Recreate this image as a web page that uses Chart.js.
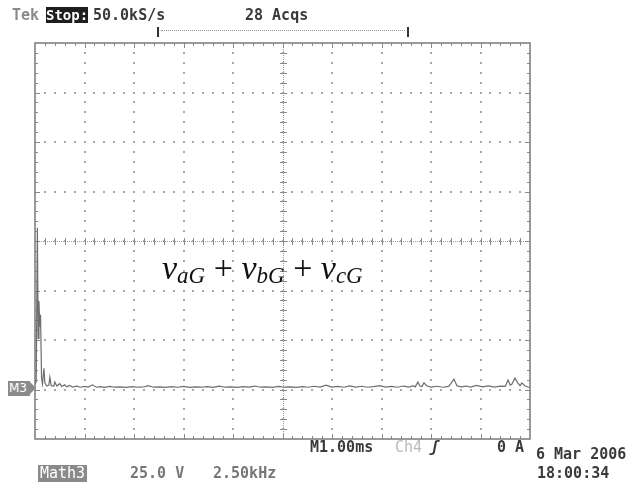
<!DOCTYPE html>
<html>
<head>
<meta charset="utf-8">
<script src="https://cdn.jsdelivr.net/npm/chart.js@4/dist/chart.umd.min.js"></script>
<style>
  body { margin: 0; background: #fff; }
  #wrap { position: relative; width: 636px; height: 484px; overflow: hidden; }
  #scope { position: absolute; left: 0; top: 0; }
  .t { position: absolute; font-family: "DejaVu Sans Mono", monospace; font-size: 15px; font-weight: bold; color: #3a3a3a; white-space: nowrap; line-height: 1; }
  .inv { background: #1e1e1e; color: #fff; padding: 1px 0; font-size: 14px; }
  .box { background: #8a8a8a; color: #fff; padding: 1px 2px; font-weight: normal; }
  #bracket { position: absolute; left: 157px; top: 27px; width: 248px; height: 10px; border-left: 2px solid #333; border-right: 2px solid #333; }
  #bracket div { position: absolute; left: 2px; right: 2px; top: 3px; border-top: 1px dotted #999; }
  #m3 { position: absolute; left: 8px; top: 381px; width: 21px; height: 15px; background: #8a8a8a; color: #fff; font-family: "DejaVu Sans", sans-serif; font-size: 12px; line-height: 15px; padding-left: 1px; }
  #m3:after { content: ""; position: absolute; left: 22px; top: 1px; border-left: 6px solid #8a8a8a; border-top: 6.5px solid transparent; border-bottom: 6.5px solid transparent; }
  #label { position: absolute; left: 162px; top: 251px; font-family: "Liberation Serif", serif; font-size: 34px; color: #111; white-space: nowrap; line-height: 1; }
  #label i { font-style: italic; }
  #label sub { font-size: 23px; font-style: italic; vertical-align: -4px; }
</style>
</head>
<body>
<div id="wrap">
  <canvas id="scope" width="636" height="484"></canvas>
  <div class="t" style="left:12px;top:8px;color:#8a8a8a;">Tek</div>
  <div class="t inv" style="left:46px;top:7px;">Stop:</div>
  <div class="t" style="left:93px;top:8px;">50.0kS/s</div>
  <div class="t" style="left:245px;top:8px;">28 Acqs</div>
  <div id="bracket"><div></div></div>
  <div id="m3">M3</div>
  <div id="label"><i>v</i><sub>aG</sub> + <i>v</i><sub>bG</sub> + <i>v</i><sub>cG</sub></div>
  <div class="t" style="left:310px;top:440px;">M1.00ms</div>
  <div class="t" style="left:395px;top:440px;color:#bbb;font-weight:normal;">Ch4</div>
  <div class="t" style="left:430px;top:440px;font-style:italic;">ʃ</div>
  <div class="t" style="left:497px;top:440px;">0 A</div>
  <div class="t" style="left:536px;top:447px;">6 Mar 2006</div>
  <div class="t" style="left:537px;top:466px;">18:00:34</div>
  <div class="t box" style="left:38px;top:465px;">Math3</div>
  <div class="t" style="left:130px;top:466px;color:#777;">25.0 V</div>
  <div class="t" style="left:213px;top:466px;color:#777;">2.50kHz</div>
</div>
<script>
// FFT of vaG + vbG + vcG, frequency in kHz, magnitude in V above the M3 reference
const freqKHz = [0, 0.06, 0.12, 0.16, 0.2, 0.24, 0.28, 0.33, 0.38, 0.45,
  0.5, 0.6, 0.7, 0.75, 0.82, 0.95, 1.0, 1.1, 1.25, 1.35,
  1.5, 1.6, 1.75, 1.9, 2.1, 2.3, 2.5, 2.7, 2.9, 3.1,
  3.3, 3.5, 3.8, 4.0, 4.3, 4.6, 4.9, 5.2, 5.5, 5.7,
  6.0, 6.3, 6.6, 6.9, 7.2, 7.5, 7.8, 8.1, 8.4, 8.7,
  9.0, 9.3, 9.6, 9.9, 10.2, 10.5, 10.8, 11.1, 11.4, 11.7,
  12.0, 12.3, 12.6, 12.9, 13.2, 13.5, 13.8, 14.1, 14.4, 14.7,
  15.0, 15.3, 15.6, 15.9, 16.2, 16.5, 16.8, 17.1, 17.4, 17.7,
  18.0, 18.3, 18.6, 18.9, 19.09, 19.2, 19.34, 19.44, 19.55, 19.64,
  19.8, 20.0, 20.3, 20.6, 20.9, 21.16, 21.31, 21.5, 21.8, 22.0,
  22.3, 22.6, 22.9, 23.2, 23.5, 23.75, 23.89, 24.0, 24.09, 24.24,
  24.39, 24.5, 24.59, 24.75, 24.9, 25.0];
const magV = [2, 3, 81, 25, 44, 31, 37, 5, 2, 10,
  2.5, 1, 1.5, 5.5, 1.2, 1, 3, 1, 2.2, 0.8,
  1.6, 0.6, 1.3, 0.5, 0.9, 0.4, 0.8, 0.5, 1.6, 0.4,
  0.7, 0.3, 0.8, 0.4, 0.6, 0.3, 0.7, 0.4, 0.5, 1.2,
  0.4, 0.6, 0.3, 0.7, 0.4, 0.8, 0.3, 0.6, 0.4, 0.7,
  0.3, 0.9, 0.4, 0.6, 0.3, 0.7, 0.5, 1.0, 0.4, 0.6,
  0.3, 0.8, 0.4, 0.6, 0.3, 0.7, 0.4, 0.9, 0.5, 1.4,
  0.5, 0.8, 0.4, 1.1, 0.5, 0.9, 0.4, 0.7, 1.2, 0.5,
  0.8, 0.4, 1.0, 0.5, 1.2, 0.6, 3, 1, 0.7, 2.6,
  1, 0.5, 0.9, 0.4, 0.8, 4.5, 1.2, 0.6, 1.0, 0.5,
  1.3, 0.6, 1.1, 0.5, 1.0, 0.8, 4, 1.5, 2, 5,
  2.5, 1.2, 2.6, 1, 0.5, 0.3];

const kHzPerDiv = 2.5;
const voltsPerDiv = 25;
const xDivs = 10, yDivs = 8;
const refOffsetDivs = 1.03; // M3 reference sits ~1 div above the bottom

const yMin = -refOffsetDivs * voltsPerDiv;
const yMax = yMin + yDivs * voltsPerDiv;

const points = freqKHz.map((f, i) => ({ x: f, y: magV[i] }));

// oscilloscope graticule: border, dotted divisions, center crosshair with ticks
const graticule = {
  id: 'graticule',
  beforeDatasetsDraw(chart) {
    const ctx = chart.ctx;
    const xs = chart.scales.x, ys = chart.scales.y;
    const L = xs.getPixelForValue(0), R = xs.getPixelForValue(xDivs * kHzPerDiv);
    const T = ys.getPixelForValue(yMax), B = ys.getPixelForValue(yMin);
    const dx = (R - L) / xDivs, dy = (B - T) / yDivs;
    ctx.save();
    ctx.fillStyle = '#a8a8a8';
    // dotted major lines
    for (let i = 1; i < xDivs; i++) {
      const x = L + i * dx;
      for (let k = 1; k < yDivs * 5; k++) ctx.fillRect(Math.round(x) - 1, Math.round(T + k * dy / 5) - 1, 2, 2);
    }
    for (let j = 1; j < yDivs; j++) {
      const y = T + j * dy;
      for (let k = 1; k < xDivs * 5; k++) ctx.fillRect(Math.round(L + k * dx / 5) - 1, Math.round(y) - 1, 2, 2);
    }
    // center crosshair
    const cx = Math.round(L + dx * xDivs / 2), cy = Math.round(T + dy * yDivs / 2);
    ctx.fillStyle = '#9a9a9a';
    for (let x = L; x < R; x += 2) ctx.fillRect(x, cy, 1, 1);
    for (let y = T; y < B; y += 2) ctx.fillRect(cx, y, 1, 1);
    ctx.strokeStyle = '#8a8a8a';
    ctx.lineWidth = 1;
    ctx.beginPath();
    for (let k = 1; k < xDivs * 5; k++) {
      const x = Math.round(L + k * dx / 5) + 0.5;
      ctx.moveTo(x, cy - 3); ctx.lineTo(x, cy + 4);
    }
    for (let k = 1; k < yDivs * 5; k++) {
      const y = Math.round(T + k * dy / 5) + 0.5;
      ctx.moveTo(cx - 3, y); ctx.lineTo(cx + 4, y);
    }
    // border ticks
    for (let k = 1; k < xDivs * 5; k++) {
      const x = Math.round(L + k * dx / 5) + 0.5;
      const len = k % 5 === 0 ? 5 : 3;
      ctx.moveTo(x, T); ctx.lineTo(x, T + len);
      ctx.moveTo(x, B); ctx.lineTo(x, B - len);
    }
    for (let k = 1; k < yDivs * 5; k++) {
      const y = Math.round(T + k * dy / 5) + 0.5;
      const len = k % 5 === 0 ? 5 : 3;
      ctx.moveTo(L, y); ctx.lineTo(L + len, y);
      ctx.moveTo(R, y); ctx.lineTo(R - len, y);
    }
    ctx.stroke();
    ctx.strokeStyle = '#7a7a7a';
    ctx.lineWidth = 1.5;
    ctx.strokeRect(L, T, R - L, B - T);
    ctx.restore();
  }
};

new Chart(document.getElementById('scope'), {
  type: 'line',
  data: {
    datasets: [{
      data: points,
      borderColor: '#6e6e6e',
      borderWidth: 1.2,
      pointRadius: 0,
      tension: 0
    }]
  },
  options: {
    responsive: false,
    animation: false,
    devicePixelRatio: 1,
    layout: { padding: { left: 35, top: 43, right: 106, bottom: 45 } },
    scales: {
      x: { type: 'linear', min: 0, max: xDivs * kHzPerDiv, display: false },
      y: { min: yMin, max: yMax, display: false }
    },
    plugins: { legend: { display: false }, tooltip: { enabled: false } }
  },
  plugins: [graticule]
});
</script>
</body>
</html>
